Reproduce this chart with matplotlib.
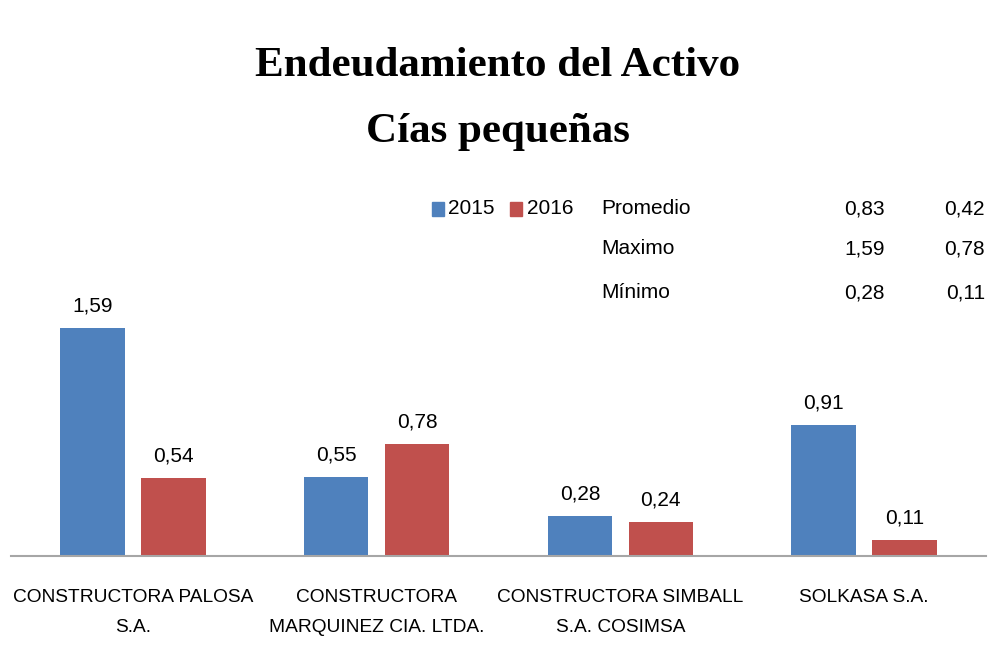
import numpy as np
import matplotlib
matplotlib.use("Agg")
import matplotlib.pyplot as plt

categories = ["CONSTRUCTORA PALOSA\nS.A.", "CONSTRUCTORA\nMARQUINEZ CIA. LTDA.",
              "CONSTRUCTORA SIMBALL\nS.A. COSIMSA", "SOLKASA S.A."]
years = ["2015", "2016"]
vals_2015 = [1.59, 0.55, 0.28, 0.91]
vals_2016 = [0.54, 0.78, 0.24, 0.11]
stat_names = ["Promedio", "Maximo", "Mínimo"]
stats_2015 = [0.83, 1.59, 0.28]
stats_2016 = [0.42, 0.78, 0.11]

blue = "#4F81BD"
red = "#C0504D"
sans = ["Liberation Sans", "DejaVu Sans"]

def fmt(v):
    return ("%.2f" % v).replace(".", ",")

fig = plt.figure(figsize=(9.96, 6.5), dpi=100)
ax = fig.add_axes([11 / 996, 94 / 650, 975 / 996, 316 / 650])

x = np.arange(len(categories))
w = 0.265
off = 0.166
b1 = ax.bar(x - off, vals_2015, w, color=blue)
b2 = ax.bar(x + off, vals_2016, w, color=red)

for bars, vals in [(b1, vals_2015), (b2, vals_2016)]:
    for rect, v in zip(bars, vals):
        ax.annotate(fmt(v), (rect.get_x() + rect.get_width() / 2, v),
                    xytext=(0, 9), textcoords="offset points",
                    ha="center", va="bottom", fontsize=15, family=sans)

ax.set_xlim(-0.5, 3.5)
ax.set_ylim(0, 2.2)
ax.set_yticks([])
ax.set_xticks(x)
ax.set_xticklabels(categories, fontsize=13.8, family=sans, linespacing=2.0)
ax.tick_params(axis="x", length=0, pad=24)
for s in ["top", "right", "left"]:
    ax.spines[s].set_visible(False)
ax.spines["bottom"].set_color("#a6a6a6")
ax.spines["bottom"].set_linewidth(1.5)

# title
fig.text(0.5, 1 - 66 / 650, "Endeudamiento del Activo", ha="center", va="center",
         fontsize=31, fontweight="bold", family="Liberation Serif")
fig.text(0.5, 1 - 132 / 650, "Cías pequeñas", ha="center", va="center",
         fontsize=31, fontweight="bold", family="Liberation Serif")

# legend
fig.patches.append(plt.Rectangle((432 / 996, 1 - 216 / 650), 12 / 996, 14 / 650,
                                 transform=fig.transFigure, color=blue))
fig.text(448 / 996, 1 - 209 / 650, years[0], va="center", fontsize=15, family=sans)
fig.patches.append(plt.Rectangle((510 / 996, 1 - 216 / 650), 12 / 996, 14 / 650,
                                 transform=fig.transFigure, color=red))
fig.text(527 / 996, 1 - 209 / 650, years[1], va="center", fontsize=15, family=sans)

# stats table
row_y = [209, 249, 293]
for name, a, b, yy in zip(stat_names, stats_2015, stats_2016, row_y):
    fig.text(601 / 996, 1 - yy / 650, name, va="center", fontsize=15, family=sans)
    fig.text(885 / 996, 1 - yy / 650, fmt(a), va="center", ha="right", fontsize=15, family=sans)
    fig.text(985 / 996, 1 - yy / 650, fmt(b), va="center", ha="right", fontsize=15, family=sans)

fig.savefig("out.png", dpi=100)
